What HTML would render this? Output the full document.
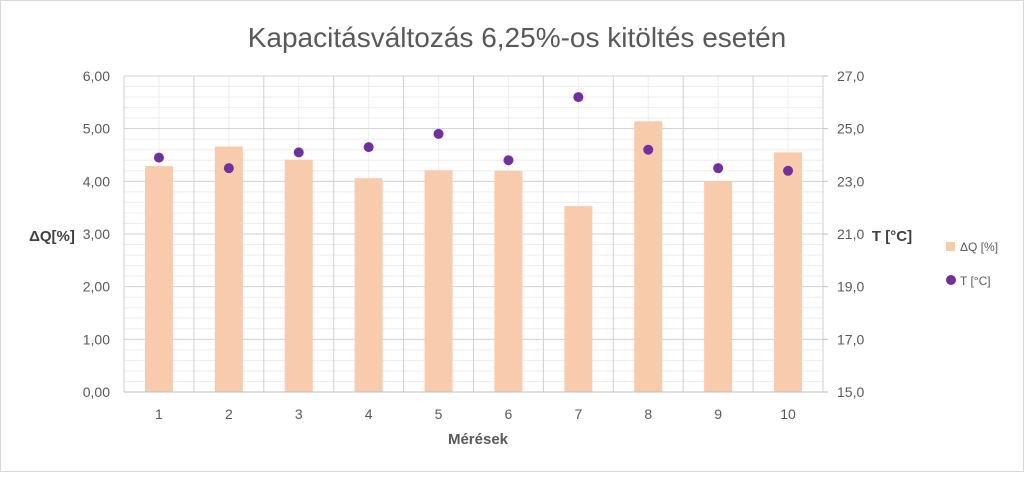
<!DOCTYPE html>
<html><head><meta charset="utf-8"><style>
body{margin:0;background:#fff;font-family:"Liberation Sans",sans-serif}
svg text{font-family:"Liberation Sans",sans-serif}
</style></head><body>
<svg width="1024" height="472" xmlns="http://www.w3.org/2000/svg">
<rect x="0.5" y="0.5" width="1023" height="471" fill="#fff" stroke="#d9d9d9"/>
<text x="517" y="47" text-anchor="middle" font-size="28" fill="#595959">Kapacitásváltozás 6,25%-os kitöltés esetén</text>
<g id="grid"></g><g id="bars"></g><g id="pts"></g><g id="axes"></g>
<text x="52" y="241" text-anchor="middle" font-size="15" font-weight="bold" fill="#404040">ΔQ[%]</text>
<text x="892" y="241" text-anchor="middle" font-size="15" font-weight="bold" fill="#404040">T [°C]</text>
<text x="478" y="444" text-anchor="middle" font-size="15" font-weight="bold" fill="#595959">Mérések</text>
<g>
<rect x="946" y="242" width="9" height="9" fill="#f8cbad"/>
<text x="960" y="251" font-size="12" fill="#595959">ΔQ [%]</text>
<circle cx="951" cy="280" r="5" fill="#7030a0"/>
<text x="960" y="285" font-size="12" fill="#595959">T [°C]</text>
</g>
</svg>
<script>
const categories=["1","2","3","4","5","6","7","8","9","10"];
const dqValues=[4.29,4.66,4.41,4.06,4.21,4.20,3.53,5.14,4.00,4.55];
const tValues=[23.9,23.5,24.1,24.3,24.8,23.8,26.2,24.2,23.5,23.4];
const leftTicks=["0,00","1,00","2,00","3,00","4,00","5,00","6,00"];
const rightTicks=["15,0","17,0","19,0","21,0","23,0","25,0","27,0"];
const NS="http://www.w3.org/2000/svg";
const L=124,R=823,T=76,B=392;
const cw=(R-L)/categories.length;
const yL=v=>B-(v/6)*(B-T);
const yR=v=>B-((v-15)/12)*(B-T);
const xC=i=>L+cw*(i+0.5);
function mk(p,tag,a){const e=document.createElementNS(NS,tag);for(const k in a)e.setAttribute(k,a[k]);p.appendChild(e);return e;}
const grid=document.getElementById('grid'),bars=document.getElementById('bars'),pts=document.getElementById('pts'),axes=document.getElementById('axes');
for(let k=0;k<=30;k++){const y=yL(k*0.2);if(k%5)mk(grid,'line',{x1:L,x2:R,y1:y,y2:y,stroke:'#ededed','stroke-width':1});}
categories.forEach((c,i)=>{mk(grid,'line',{x1:xC(i),x2:xC(i),y1:T,y2:B,stroke:'#ededed','stroke-width':1});});
for(let k=0;k<=6;k++){const y=yL(k);mk(grid,'line',{x1:L,x2:R,y1:y,y2:y,stroke:'#d0d0d0','stroke-width':1});}
for(let i=0;i<=categories.length;i++){const x=L+cw*i;mk(grid,'line',{x1:x,x2:x,y1:T,y2:B,stroke:'#d0d0d0','stroke-width':1});}
categories.forEach((c,i)=>{
const r=mk(bars,'rect',{x:xC(i)-14,y:yL(dqValues[i]),width:28,height:B-yL(dqValues[i]),fill:'#f8cbad'});


const p=mk(pts,'circle',{cx:xC(i),cy:yR(tValues[i]),r:5,fill:'#7030a0'});


const t=mk(axes,'text',{x:xC(i),y:B+27,'text-anchor':'middle','font-size':14,fill:'#595959'});t.textContent=c;


});
mk(axes,'line',{x1:L,x2:R,y1:B,y2:B,stroke:'#bfbfbf'});
leftTicks.forEach((s,k)=>{const t=mk(axes,'text',{x:110,y:yL(k)+5,'text-anchor':'end','font-size':14,fill:'#595959'});t.textContent=s;

});
rightTicks.forEach((s,k)=>{const v=parseFloat(s.replace(',','.'));const y=yR(v);mk(axes,'line',{x1:R,x2:R+5,y1:y,y2:y,stroke:'#bfbfbf'});
const t=mk(axes,'text',{x:837,y:y+5,'font-size':14,fill:'#595959'});t.textContent=s;

});
</script>
</body></html>
